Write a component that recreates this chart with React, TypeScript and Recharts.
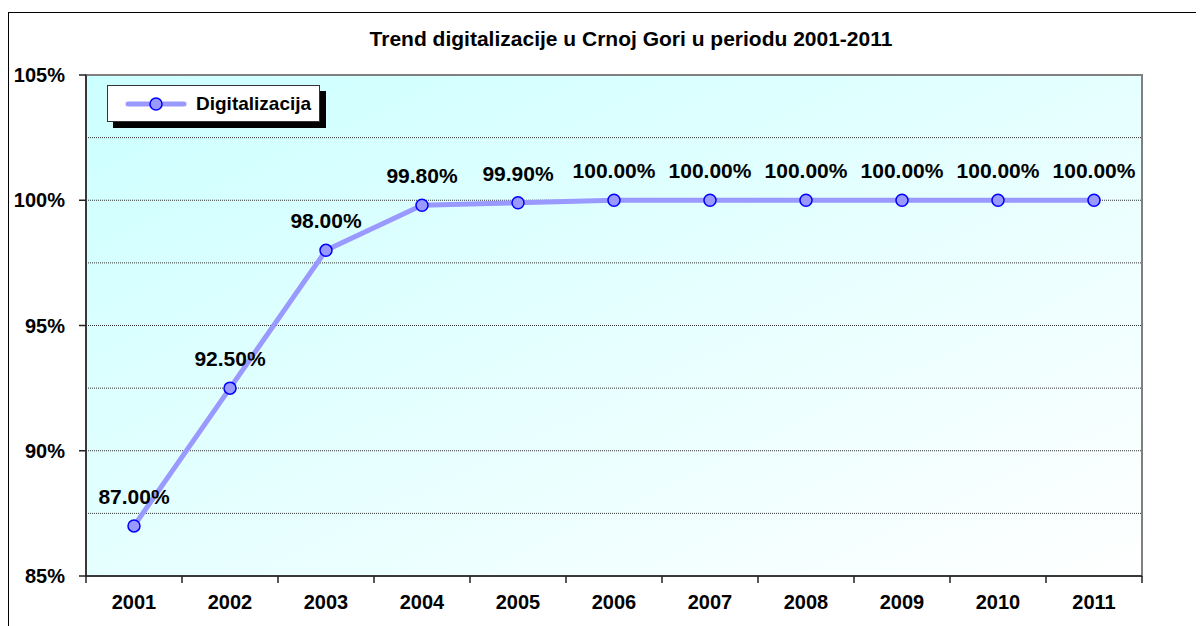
import React from 'react';
import {
  ComposedChart,
  Line,
  XAxis,
  YAxis,
  CartesianGrid,
  LabelList,
  ReferenceArea,
} from 'recharts';

const title = 'Trend digitalizacije u Crnoj Gori u periodu 2001-2011';
const seriesName = 'Digitalizacija';
const years = ['2001', '2002', '2003', '2004', '2005', '2006', '2007', '2008', '2009', '2010', '2011'];
const values = [87, 92.5, 98, 99.8, 99.9, 100, 100, 100, 100, 100, 100];
const yTicks = [85, 90, 95, 100, 105];
const gridValues = [87.5, 90, 92.5, 95, 97.5, 100, 102.5];

const data = years.map((year, i) => ({ year, value: values[i] }));

const FONT = "Arial, 'Liberation Sans', sans-serif";
const W = 1196;
const H = 618;
const TICK_SIZE = 7;
const TICK_MARGIN = 12;

const XTick = (props: any) => {
  const { x, y, payload, index, width, visibleTicksCount } = props;
  const count = visibleTicksCount || years.length;
  const axisW = typeof width === 'number' && width > 0 ? width : 1056;
  const band = axisW / count;
  const top = y - TICK_MARGIN - TICK_SIZE;
  return (
    <g>
      <line x1={x - band / 2} x2={x - band / 2} y1={top} y2={top + TICK_SIZE} stroke="#222" strokeWidth={1.5} />
      {index === count - 1 && (
        <line x1={x + band / 2} x2={x + band / 2} y1={top} y2={top + TICK_SIZE} stroke="#222" strokeWidth={1.5} />
      )}
      <text x={x} y={y} dy="0.71em" textAnchor="middle" fontFamily={FONT} fontWeight="bold" fontSize={20} fill="#000">
        {payload.value}
      </text>
    </g>
  );
};

export default function App() {
  return (
    <div style={{ position: 'relative', width: W, height: H }}>
      <div
        style={{
          position: 'absolute',
          left: 0,
          top: 4,
          width: W,
          height: H - 4,
          borderTop: '1px solid #000',
          borderLeft: '1px solid #000',
          boxSizing: 'border-box',
        }}
      />
      <div
        style={{
          position: 'absolute',
          left: 623,
          top: 21,
          transform: 'translateX(-50%)',
          whiteSpace: 'nowrap',
          fontFamily: FONT,
          fontWeight: 'bold',
          fontSize: 21,
          lineHeight: '20px',
          color: '#000',
        }}
      >
        {title}
      </div>
      <ComposedChart
        width={W}
        height={H}
        data={data}
        margin={{ top: 67, right: 62, bottom: 0, left: 0 }}
        style={{ position: 'absolute', left: 0, top: 0 }}
      >
        <defs>
          <linearGradient id="plotBg" x1="0" y1="0" x2="1" y2="1">
            <stop offset="0%" stopColor="#ccffff" />
            <stop offset="100%" stopColor="#ffffff" />
          </linearGradient>
        </defs>
        <CartesianGrid
          vertical={false}
          horizontalValues={gridValues}
          fill="url(#plotBg)"
          fillOpacity={1}
          stroke="#333"
          strokeDasharray="1 1"
        />
        <ReferenceArea y1={85} y2={105} fill="none" stroke="#808080" strokeWidth={2} />
        <XAxis
          dataKey="year"
          scale="band"
          height={50}
          tickLine={false}
          tickSize={TICK_SIZE}
          tickMargin={TICK_MARGIN}
          axisLine={{ stroke: '#222', strokeWidth: 1.5 }}
          tick={<XTick />}
          interval={0}
        />
        <YAxis
          type="number"
          domain={[85, 105]}
          ticks={yTicks}
          width={78}
          tickSize={TICK_SIZE}
          tickMargin={14}
          tickFormatter={(v: any) => `${v}%`}
          axisLine={{ stroke: '#222', strokeWidth: 1.5 }}
          tickLine={{ stroke: '#222', strokeWidth: 1.5 }}
          tick={{ fontFamily: FONT, fontWeight: 'bold', fontSize: 20, fill: '#000' }}
        />
        <Line
          type="linear"
          dataKey="value"
          name={seriesName}
          stroke="#9999ff"
          strokeWidth={5}
          dot={{ r: 6, fill: '#9999ff', stroke: '#0000ff', strokeWidth: 1.5 }}
          activeDot={false}
          isAnimationActive={false}
        >
          <LabelList
            dataKey="value"
            position="top"
            offset={22}
            formatter={(v: any) => `${Number(v).toFixed(2)}%`}
            style={{ fontFamily: FONT, fontWeight: 'bold', fontSize: 21, fill: '#000' }}
          />
        </Line>
      </ComposedChart>
      <div
        style={{
          position: 'absolute',
          left: 99,
          top: 77,
          width: 213,
          height: 37,
          boxSizing: 'border-box',
          border: '1px solid #333',
          background: '#fff',
          boxShadow: '6px 6px 0 #000',
          display: 'flex',
          alignItems: 'center',
          fontFamily: FONT,
          fontWeight: 'bold',
          fontSize: 19,
          color: '#000',
        }}
      >
        <svg width={70} height={20} style={{ marginLeft: 16, flex: 'none' }}>
          <line x1={4} x2={60} y1={10} y2={10} stroke="#9999ff" strokeWidth={5} strokeLinecap="round" />
          <circle cx={32} cy={10} r={6} fill="#9999ff" stroke="#0000ff" strokeWidth={1.5} />
        </svg>
        <span style={{ marginLeft: 2 }}>{seriesName}</span>
      </div>
    </div>
  );
}
